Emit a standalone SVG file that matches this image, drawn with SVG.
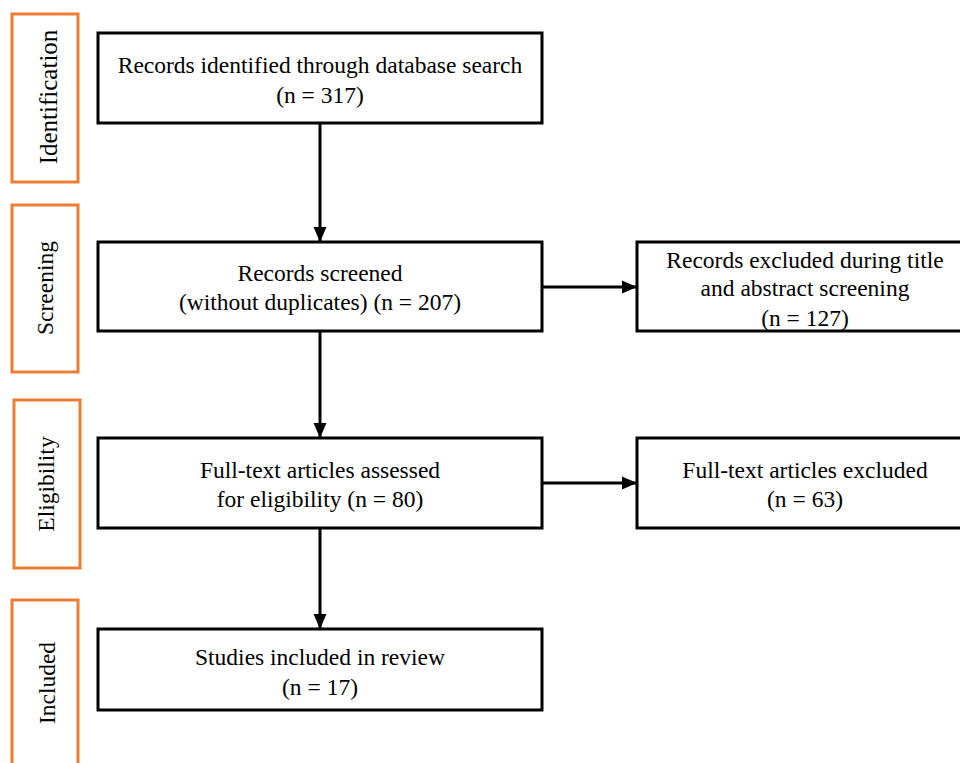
<svg xmlns="http://www.w3.org/2000/svg" width="960" height="763" viewBox="0 0 960 763">
<style>
.stage{fill:#fff;stroke:#ED7D31;stroke-width:3}
.box{fill:#fff;stroke:#000;stroke-width:3}
.t{font-family:"Liberation Serif","Times New Roman",serif;font-size:23.5px;fill:#000;text-anchor:middle}
.edge{stroke:#000;stroke-width:3;fill:none}
</style>
<defs>
<marker id="ah" markerWidth="15" markerHeight="15" refX="14" refY="7.5" orient="auto" markerUnits="userSpaceOnUse" viewBox="0 0 15 15">
<path d="M0,1 L15,7.5 L0,14 z" fill="#000"/>
</marker>
</defs>
<rect width="960" height="763" fill="#fff"/>
<g id="stage-identification"><rect class="stage" x="12" y="14" width="66" height="168"/><text class="t" style="font-size:25px" transform="translate(51,97) rotate(-90)" dominant-baseline="middle">Identification</text></g>
<g id="stage-screening"><rect class="stage" x="12" y="205" width="66" height="167"/><text class="t" transform="translate(48,288) rotate(-90)" dominant-baseline="middle">Screening</text></g>
<g id="stage-eligibility"><rect class="stage" x="14" y="400" width="66" height="168"/><text class="t" transform="translate(49,484) rotate(-90)" dominant-baseline="middle">Eligibility</text></g>
<g id="stage-included"><rect class="stage" x="12" y="600" width="66" height="180"/><text class="t" transform="translate(50,683) rotate(-90)" dominant-baseline="middle">Included</text></g>

<g id="connectors">
<line class="edge" x1="320" y1="123" x2="320" y2="241" marker-end="url(#ah)"/>
<line class="edge" x1="320" y1="331" x2="320" y2="437" marker-end="url(#ah)"/>
<line class="edge" x1="320" y1="528" x2="320" y2="628" marker-end="url(#ah)"/>
<line class="edge" x1="542" y1="287" x2="636" y2="287" marker-end="url(#ah)"/>
<line class="edge" x1="542" y1="483" x2="636" y2="483" marker-end="url(#ah)"/>
</g>

<g id="n1"><rect class="box" x="98" y="33" width="444" height="90"/><text class="t" x="320" y="73">Records identified through database search</text><text class="t" x="320" y="103">(n = 317)</text></g>
<g id="n2"><rect class="box" x="98" y="242" width="444" height="89"/><text class="t" x="320" y="281">Records screened</text><text class="t" x="320" y="310">(without duplicates) (n = 207)</text></g>
<g id="n3"><rect class="box" x="637" y="242" width="340" height="89"/><text class="t" x="805" y="268">Records excluded during title</text><text class="t" x="805" y="296">and abstract screening</text><text class="t" x="805" y="326">(n = 127)</text></g>
<g id="n4"><rect class="box" x="98" y="438" width="444" height="90"/><text class="t" x="320" y="478">Full-text articles assessed</text><text class="t" x="320" y="507">for eligibility (n = 80)</text></g>
<g id="n5"><rect class="box" x="637" y="438" width="340" height="90"/><text class="t" x="805" y="478">Full-text articles excluded</text><text class="t" x="805" y="507">(n = 63)</text></g>
<g id="n6"><rect class="box" x="98" y="629" width="444" height="81"/><text class="t" x="320" y="665">Studies included in review</text><text class="t" x="320" y="695">(n = 17)</text></g>
</svg>
